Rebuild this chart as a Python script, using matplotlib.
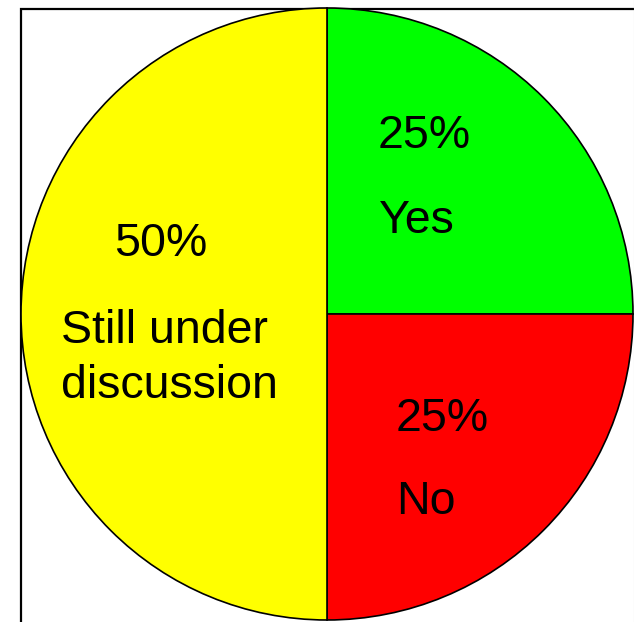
import matplotlib.pyplot as plt
from matplotlib.patches import Rectangle

# data
categories = ["Yes", "No", "Still under\ndiscussion"]
values = [25, 25, 50]
colours = ["#00ff00", "#ff0000", "#ffff00"]

W, H = 634, 622
fig = plt.figure(figsize=(W / 100, H / 100), dpi=100)
ax = fig.add_axes([0, 0, 1, 1])

# frame (only left and top edges visible in the picture)
ax.add_patch(Rectangle((21, -20), 700, H - 9 + 20, fill=False,
                       edgecolor="black", linewidth=1.6, zorder=0))
ax.axvline(633.5, color="#d0d0d0", linewidth=0.8, zorder=0)

ax.pie(values, colors=colours, startangle=90, counterclock=False,
       center=(327, H - 314), radius=306, frame=True,
       wedgeprops=dict(edgecolor="black", linewidth=1.2))
ax.set_xlim(0, W)
ax.set_ylim(0, H)
ax.set_aspect("equal")
ax.axis("off")

font = dict(family=["Liberation Sans", "DejaVu Sans"], fontsize=33.5,
            ha="left", va="baseline")

# (percentage position, label position) as pixel baselines
pct_pos = [(378, 148), (396, 431), (114, 256)]
lab_pos = [(379, 233), (396, 514), (61, 343)]
for v, cat, (px, py), (lx, ly) in zip(values, categories, pct_pos, lab_pos):
    ax.text(px, H - py, f"{v}%", **font)
    if "\n" in cat:
        first, second = cat.split("\n")
        ax.text(lx, H - ly, first, **font)
        ax.text(lx, H - 398, second, **font)
    else:
        ax.text(lx, H - ly, cat, **font)

fig.savefig("out.png", dpi=100)
